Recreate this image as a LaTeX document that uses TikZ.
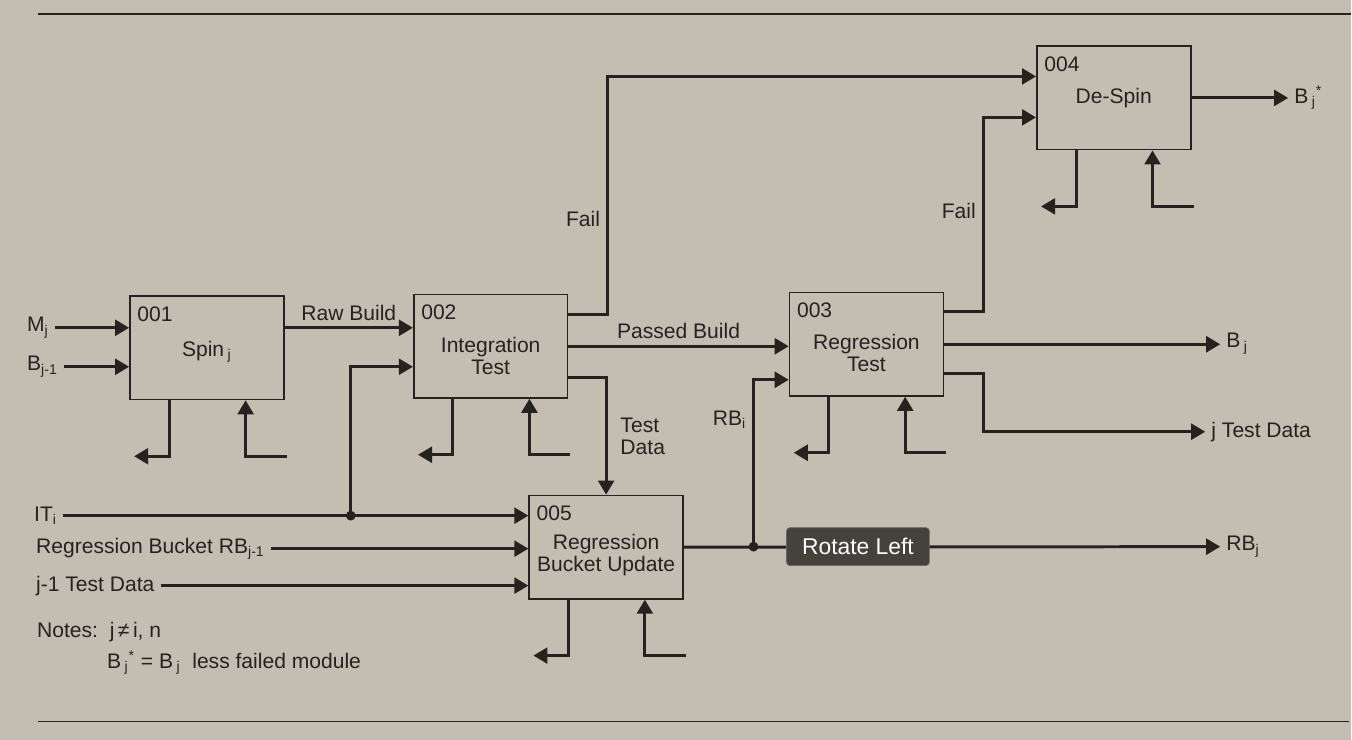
\documentclass[tikz,border=0pt]{standalone}
\usepackage{fontspec}
\setsansfont{Liberation Sans}
\usetikzlibrary{arrows.meta, calc}
\definecolor{Paper}{HTML}{C3BDB2}
\definecolor{Ink}{HTML}{25221F}
\definecolor{TipFill}{HTML}{45423C}
\definecolor{TipEdge}{HTML}{6B675F}
\newcommand{\lo}[1]{\textsubscript{#1}}

\begin{document}
\begin{tikzpicture}[
    x=0.02cm,
    y=-0.02cm,
    font=\sffamily\fontsize{12}{12.5}\selectfont,
    every node/.style={text=Ink},
    procbox/.style={draw=Ink, line width=0.9pt, minimum width=3.08cm, minimum height=2.07cm, inner sep=0pt},
    boxtag/.style={anchor=north west, inner sep=0pt},
    boxtitle/.style={align=center},
    sig/.style={anchor=west},
    flow/.style={-{Triangle[length=8pt, width=9pt]}, draw=Ink, line width=1.7pt},
    hrule/.style={draw=Ink, line width=1pt},
    tooltip/.style={fill=TipFill, draw=TipEdge, rounded corners=2pt, minimum width=2.86cm, minimum height=0.76cm, text=white, font=\sffamily\fontsize{13}{14}\selectfont}
]

\fill[Paper] (0,0) rectangle (1352,740);

\draw[hrule] (38,14) -- (1352,14);
\draw[hrule] (38,722) -- (1350,722);

% activity boxes
\node[procbox] (spin) at (207,348) {};
\node[procbox] (integ) at (491,346.5) {};
\node[procbox] (regr) at (867,344.5) {};
\node[procbox] (despin) at (1114.5,98) {};
\node[procbox] (bucket) at (606.5,547.5) {};

\node[boxtag] (spinno) at ($(spin.north west)+(8,11)$) {001};
\node[boxtag] (integno) at ($(integ.north west)+(8,11)$) {002};
\node[boxtag] (regrno) at ($(regr.north west)+(8,11)$) {003};
\node[boxtag] (despinno) at ($(despin.north west)+(8,11)$) {004};
\node[boxtag] (bucketno) at ($(bucket.north west)+(8,11)$) {005};

\node[boxtitle] (spinname) at ($(spin)+(0,4)$) {Spin\,\lo{j}};
\node[boxtitle] (integname) at ($(integ)+(0,10)$) {Integration\\Test};
\node[boxtitle] (regrname) at ($(regr)+(0,9)$) {Regression\\Test};
\node[boxtitle] (despinname) at (despin) {De-Spin};
\node[boxtitle] (bucketname) at ($(bucket)+(0,8)$) {Regression\\Bucket Update};

% outside signals
\node[sig] (mjlab) at (21,328) {M\lo{j}};
\node[sig] (bjlab) at (21,367) {B\lo{j-1}};
\node[sig] (itlab) at (28,516) {IT\lo{i}};
\node[sig] (rblab) at (30,549) {Regression Bucket RB\lo{j-1}};
\node[sig] (tdlab) at (30,586) {j-1 Test Data};

\node[sig] (bstar) at (1289,98) {B\,\lo{j}\textsuperscript{*}};
\node[sig] (bjout) at (1221,344) {B\,\lo{j}};
\node[sig] (jtdout) at (1206,432) {j Test Data};
\node[sig] (rbjout) at (1221,547) {RB\lo{j}};

\coordinate (itjoin) at (351,516);
\coordinate (rbjoin) at (754,547);

% connectors
\draw[flow] (mjlab.east) -- (spin.west |- mjlab);
\draw[flow] (bjlab.east) -- (spin.west |- bjlab);
\draw[flow] (spin.east |- mjlab) -- node[above] (rawlab) {Raw Build} (integ.west |- mjlab);
\draw[flow] (itjoin) |- (integ.west |- bjlab);
\draw[flow] (itlab.east) -- (bucket.west |- itlab);
\draw[flow] (rblab.east) -- (bucket.west |- rblab);
\draw[flow] (tdlab.east) -- (bucket.west |- tdlab);

\draw[flow] ($(integ.north east)+(0,21)$) -- ++(39,0)
    |- node[pos=0.2, left] (faila) {Fail} ($(despin.north west)+(0,31)$);
\draw[flow] (integ.east) -- node[above] (passlab) {Passed Build} (regr.west |- integ.east);
\draw[flow] ($(integ.south east)+(0,-21)$)
    -| node[pos=0.75, right, align=left, xshift=4pt] (tdatalab) {Test\\Data} (bucket.north);
\draw[flow] (rbjoin) |- node[pos=0.38, left] (rbilab) {RB\lo{i}} ($(regr.south west)+(0,-17)$);

\draw[flow] ($(regr.north east)+(0,20)$) -- ++(39,0)
    |- node[pos=0.26, left] (failb) {Fail} ($(despin.north west)+(0,72)$);
\draw[flow] (regr.east) -- (bjout.west |- regr.east);
\draw[flow] ($(regr.south east)+(0,-23)$) -- ++(39,0) |- (jtdout.west);
\draw[flow] (despin.east) -- (bstar.west);
\draw[flow] (bucket.east) -- (rbjout.west);

\fill[Ink] (itjoin) circle (2.8pt);
\fill[Ink] (rbjoin) circle (2.8pt);

% mechanism and control stubs under each box
\foreach \b in {spin,integ,regr,despin,bucket} {
    \draw[flow] ($(\b.south west)+(40,0)$) |- ++(-35,56);
    \draw[flow] ($(\b.south east)+(2,56)$) -| ($(\b.south east)+(-39,0)$);
}

\node[tooltip] (rotate) at (858.5,547) {Rotate Left};

\node[sig] (notes) at (31,632) {Notes:\ \ j\,≠\,i, n};
\node[sig] (notesb) at (101,663) {B\,\lo{j}\textsuperscript{*} = B\,\lo{j}\ \ less failed module};

\end{tikzpicture}
\end{document}
